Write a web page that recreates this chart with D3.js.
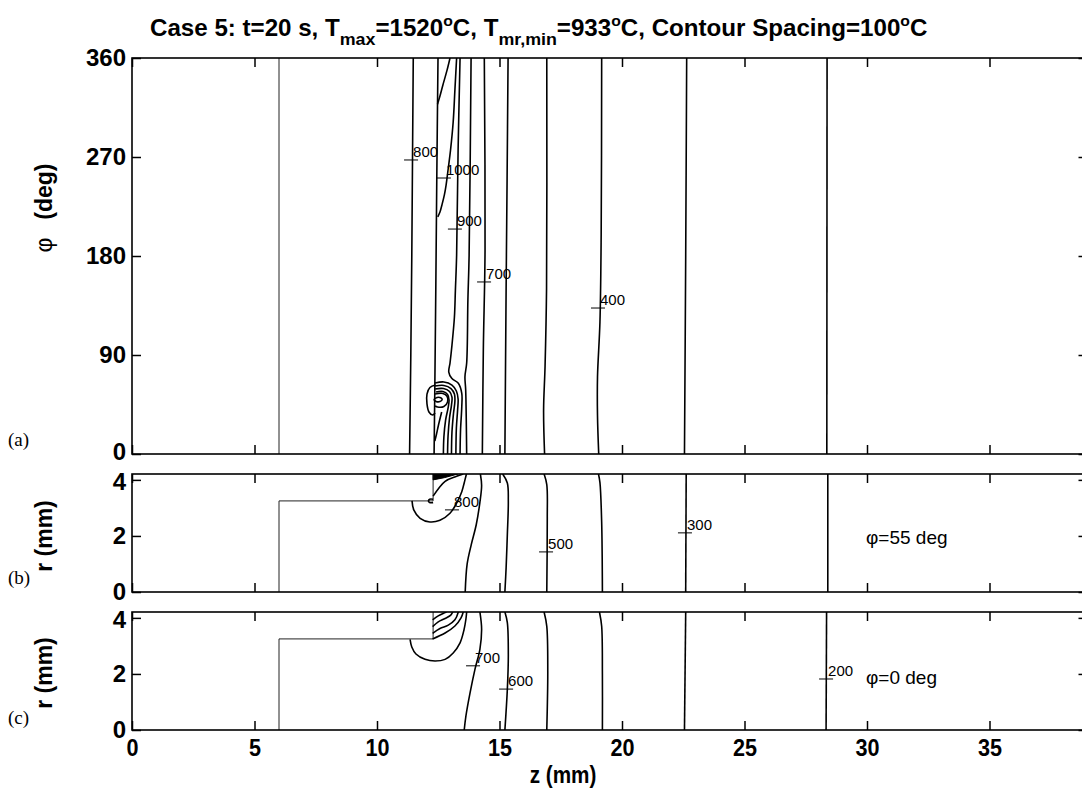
<!DOCTYPE html>
<html lang="en">
<head>
<meta charset="UTF-8">
<title>Case 5 temperature contours</title>
<script src="https://d3js.org/d3.v7.min.js"></script>
<style>
  body { margin: 0; background: #fff; }
  svg { display: block; }
  .tick text { font-family: "Liberation Sans", Arial, sans-serif; font-weight: bold; fill: #000; }
  .tick line { stroke: #000; stroke-width: 1.5; }
  .ylab .tick text { font-size: 24px; }
  .xlab .tick text { font-size: 24px; }
  .clab { font-family: "Liberation Sans", Arial, sans-serif; font-size: 15px; fill: #000; }
</style>
</head>
<body>
<svg id="chart" width="1082" height="792"></svg>
<script>
// ---------- data ----------
const zTicks = [0, 5, 10, 15, 20, 25, 30, 35];
const phiTicks = [0, 90, 180, 270, 360];
const rTicks = [0, 2, 4];
const zMax = 39, phiMax = 360, rMax = 4.21;

const titleParts = [
  ["Case 5: t=20 s, T", ""], ["max", "sub"], ["=1520", ""], ["o", "sup"],
  ["C, T", ""], ["mr,min", "sub"], ["=933", ""], ["o", "sup"],
  ["C, Contour Spacing=100", ""], ["o", "sup"], ["C", ""]
];

// (a) phi vs z, contour lines as [z (mm), phi (deg)]
const thinA = [[[6, 0], [6, 360]]];
const contoursA = [
  [[11.48, 360], [11.45, 270], [11.42, 180], [11.38, 90], [11.33, 0]],
  [[12.49, 360], [12.44, 250], [12.4, 150], [12.36, 60], [12.33, 0]],
  [[12.98, 360], [12.86, 349], [12.69, 335.5], [12.57, 325.5], [12.51, 321], [12.47, 318]],
  [[13.25, 360], [13.18, 331], [13.11, 302], [13.0, 276], [12.91, 260], [12.82, 244.5], [12.75, 235.5], [12.65, 226.4], [12.57, 220], [12.48, 215.5]],
  [[13.39, 360], [13.31, 276], [13.25, 181], [13.2, 149], [13.16, 124.5], [13.06, 99], [12.98, 82.7], [12.93, 74.5], [13.05, 68.8], [13.32, 64.3], [13.46, 55.2], [13.46, 43], [13.41, 21.8], [13.39, 0]],
  [[13.84, 360], [13.76, 181], [13.71, 140], [13.66, 82.7], [13.59, 70.3], [13.62, 58.2], [13.66, 0]],
  [[14.38, 360], [14.41, 185], [14.34, 94.5], [14.3, 0]],
  [[15.35, 360], [15.31, 250], [15.27, 150], [15.22, 0]],
  [[16.93, 360], [16.92, 150], [16.86, 80], [16.8, 40], [16.84, 0]],
  [[19.17, 360], [19.15, 200], [19.1, 120], [19.0, 70], [19.0, 35], [19.05, 0]],
  [[22.64, 360], [22.6, 180], [22.55, 0]],
  [[28.37, 360], [28.36, 0]],
  // hot spot near phi = 55 deg
  [[12.37, 64.5], [12.73, 65.5], [13.06, 62.7], [13.24, 57.3], [13.31, 50], [13.29, 40], [13.24, 23.6], [13.22, 0]],
  [[12.37, 61.8], [12.73, 62.3], [13.02, 59.5], [13.16, 54.5], [13.18, 48.2], [13.12, 36.4], [13.06, 20], [13.04, 0]],
  [[12.37, 59.1], [12.71, 59.5], [12.96, 56.8], [13.06, 51.8], [13.04, 44.5], [12.96, 32.7], [12.9, 16.4], [12.88, 0]],
  [[12.41, 56.4], [12.69, 56.8], [12.88, 54.1], [12.94, 49.1], [12.9, 41.8], [12.8, 30.9], [12.73, 15.5], [12.71, 0]],
  [[12.64, 38.2], [12.51, 26.4], [12.43, 18.2], [12.36, 11.8]],
  [[12.39, 62.7], [12.16, 60.5], [12.04, 54.5], [12.04, 45.5], [12.12, 38.2], [12.27, 35.5], [12.37, 37.3]],
  [[12.37, 54.5], [12.69, 55], [12.86, 52.3], [12.88, 47.3], [12.73, 43.2], [12.47, 42.7], [12.37, 43.6]]
];
const loopsA = [
  [[12.33, 49.5], [12.45, 51.4], [12.6, 51.2], [12.66, 49.5], [12.57, 47.7], [12.41, 47.8]]
];
const labelsA = [
  [11.39, 267.3, "800"], [12.73, 250.9, "1000"], [13.18, 204.5, "900"],
  [14.37, 156.4, "700"], [19.02, 132.7, "400"]
];

// (b) r vs z at phi = 55 deg, [z (mm), r (mm)]
const geomRZ = [[6, 0], [6, 3.25], [12.29, 3.25], [12.29, 4.21]];
const wedgeB = [[12.29, 4.21], [13.3, 4.21], [12.75, 4.08], [12.29, 4.0]];
const contoursB = [
  [[12.29, 3.42], [12.78, 3.95], [13.25, 4.13], [13.52, 4.21]],
  [[11.43, 3.25], [11.5, 2.93], [11.76, 2.63], [12.16, 2.5], [12.57, 2.56], [12.98, 2.81], [13.25, 3.17], [13.46, 3.58], [13.59, 4.0], [13.65, 4.21]],
  [[14.22, 4.21], [14.27, 3.8], [14.2, 3.2], [14.05, 2.4], [13.85, 1.7], [13.68, 1.0], [13.6, 0]],
  [[15.13, 4.21], [15.32, 3.89], [15.36, 3.24], [15.32, 2.05], [15.27, 0.86], [15.22, 0]],
  [[16.82, 4.21], [16.93, 3.83], [16.95, 2.64], [16.93, 0]],
  [[19.04, 4.21], [19.1, 3.9], [19.17, 2.5], [19.2, 0]],
  [[22.62, 4.21], [22.6, 0]],
  [[28.4, 4.21], [28.4, 0]],
  [[12.29, 3.31], [12.15, 3.31], [12.1, 3.25], [12.15, 3.19], [12.29, 3.19]]
];
const labelsB = [[13.06, 2.93, "800"], [16.9, 1.43, "500"], [22.57, 2.11, "300"]];

// (c) r vs z at phi = 0 deg
const contoursC = [
  [[12.27, 3.93], [12.5, 4.07], [12.73, 4.17], [12.84, 4.21]],
  [[12.27, 3.69], [12.5, 3.86], [12.78, 3.98], [13.01, 4.1], [13.09, 4.21]],
  [[12.27, 3.45], [12.57, 3.62], [12.91, 3.74], [13.18, 3.93], [13.32, 4.21]],
  [[12.27, 3.25], [12.78, 3.46], [13.18, 3.71], [13.43, 4.0], [13.52, 4.21]],
  [[11.35, 3.23], [11.42, 2.96], [11.59, 2.71], [11.96, 2.52], [12.37, 2.46], [12.78, 2.52], [13.11, 2.75], [13.39, 3.11], [13.55, 3.57], [13.63, 3.96], [13.66, 4.21]],
  [[14.2, 4.21], [14.27, 3.6], [14.2, 2.88], [14.0, 2.17], [13.8, 1.33], [13.63, 0.5], [13.56, 0]],
  [[15.22, 4.21], [15.32, 3.83], [15.36, 2.64], [15.32, 1.45], [15.22, 0]],
  [[16.82, 4.21], [16.93, 3.7], [16.97, 2.1], [16.93, 0]],
  [[19.08, 4.21], [19.17, 3.7], [19.2, 2.0], [19.2, 0]],
  [[22.6, 4.21], [22.55, 0]],
  [[28.35, 4.21], [28.33, 0]]
];
const labelsC = [[13.92, 2.29, "700"], [15.27, 1.46, "600"], [28.33, 1.82, "200"]];

// ---------- layout ----------
const svg = d3.select("#chart");
const x = d3.scaleLinear().domain([0, zMax]).range([132, 1087.5]);

const panels = [
  { key: "a", y: d3.scaleLinear().domain([0, phiMax]).range([454, 58]), ticks: phiTicks,
    thin: thinA, lines: contoursA, loops: loopsA, labels: labelsA, tag: "(a)", tagY: 446 },
  { key: "b", y: d3.scaleLinear().domain([0, rMax]).range([592, 474]), ticks: rTicks,
    thin: [geomRZ], lines: contoursB, loops: [], wedge: wedgeB, labels: labelsB, tag: "(b)", tagY: 584,
    note: "=55 deg", noteY: 544 },
  { key: "c", y: d3.scaleLinear().domain([0, rMax]).range([730, 612]), ticks: rTicks,
    thin: [geomRZ], lines: contoursC, loops: [], labels: labelsC, tag: "(c)", tagY: 724,
    note: "=0 deg", noteY: 684, zLabels: true }
];

panels.forEach(p => {
  const g = svg.append("g");
  const [y0, y1] = p.y.range();
  const x0 = x.range()[0], x1 = x.range()[1];

  g.append("clipPath").attr("id", "clip-" + p.key)
    .append("rect").attr("x", x0).attr("y", y1).attr("width", x1 - x0).attr("height", y0 - y1);
  const body = g.append("g").attr("clip-path", `url(#clip-${p.key})`);

  const line = d3.line().x(d => x(d[0])).y(d => p.y(d[1])).curve(d3.curveCatmullRom.alpha(0.5));
  const loop = d3.line().x(d => x(d[0])).y(d => p.y(d[1])).curve(d3.curveCatmullRomClosed.alpha(0.5));

  body.selectAll("path.thin").data(p.thin).join("path")
    .attr("class", "thin").attr("d", d3.line().x(d => x(d[0])).y(d => p.y(d[1])))
    .attr("fill", "none").attr("stroke", "#222").attr("stroke-width", 1);

  if (p.wedge) {
    body.append("path").attr("d", d3.line().x(d => x(d[0])).y(d => p.y(d[1]))(p.wedge) + "Z")
      .attr("fill", "#000").attr("stroke", "#000").attr("stroke-width", 1);
  }

  body.selectAll("path.ct").data(p.lines).join("path")
    .attr("class", "ct").attr("d", line)
    .attr("fill", "none").attr("stroke", "#000").attr("stroke-width", 1.6);

  body.selectAll("path.lp").data(p.loops).join("path")
    .attr("class", "lp").attr("d", loop)
    .attr("fill", "none").attr("stroke", "#000").attr("stroke-width", 1.6);

  // contour labels with small cross marks
  const lab = g.selectAll("g.lab").data(p.labels).join("g").attr("class", "lab");
  lab.append("line")
    .attr("x1", d => x(d[0]) - 7).attr("x2", d => x(d[0]) + 7)
    .attr("y1", d => p.y(d[1])).attr("y2", d => p.y(d[1]))
    .attr("stroke", "#000").attr("stroke-width", 1);
  lab.append("text").attr("class", "clab")
    .attr("x", d => x(d[0]) + 2).attr("y", d => p.y(d[1]) - 3)
    .text(d => d[2]);

  // frame
  g.append("rect").attr("x", x0).attr("y", y1).attr("width", x1 - x0).attr("height", y0 - y1)
    .attr("fill", "none").attr("stroke", "#000").attr("stroke-width", 1.6);

  // axes with inward ticks
  const clean = s => s.call(a => a.select(".domain").remove()).attr("font-size", null).attr("font-family", null);
  g.append("g").attr("class", "xlab").attr("transform", `translate(0,${y0})`)
    .call(d3.axisBottom(x).tickValues(zTicks).tickSize(-9).tickSizeOuter(0).tickPadding(9)
      .tickFormat(p.zLabels ? d3.format("d") : () => ""))
    .call(clean)
    .selectAll(".tick text").attr("transform", "scale(0.9,1)");
  g.append("g").attr("transform", `translate(0,${y1})`)
    .call(d3.axisTop(x).tickValues(zTicks).tickSize(-9).tickSizeOuter(0).tickFormat(() => ""))
    .call(clean);
  const top = p.ticks[p.ticks.length - 1];
  g.append("g").attr("class", "ylab").attr("transform", `translate(${x0},0)`)
    .call(d3.axisLeft(p.y).tickValues(p.ticks).tickSize(-9).tickSizeOuter(0).tickPadding(6).tickFormat(d3.format("d")))
    .call(clean)
    .selectAll(".tick text")
    .attr("dy", d => (p.key === "a" && d === 0) ? "0.22em" : (p.key !== "a" && d === top) ? "0.40em" : "0.32em");
  g.append("g").attr("transform", `translate(${x1},0)`)
    .call(d3.axisRight(p.y).tickValues(p.ticks).tickSize(-9).tickSizeOuter(0).tickFormat(() => ""))
    .call(clean);

  // panel tag
  svg.append("text").attr("x", 8).attr("y", p.tagY)
    .attr("font-family", "'Liberation Serif', 'Times New Roman', serif").attr("font-size", 19)
    .text(p.tag);

  if (p.note) {
    const t = svg.append("text").attr("x", 866).attr("y", p.noteY)
      .attr("font-family", "'Liberation Sans', Arial, sans-serif").attr("font-size", 19);
    t.append("tspan").text("\u03c6");
    t.append("tspan").text(p.note);
  }
});

// y axis titles
const yTitle = (cy, parts) => {
  const t = svg.append("text").attr("transform", `translate(52,${cy}) rotate(-90)`)
    .attr("text-anchor", "middle")
    .attr("font-family", "'Liberation Sans', Arial, sans-serif").attr("font-size", 23);
  parts.forEach(([s, w]) => t.append("tspan").attr("font-weight", w).text(s));
};
yTitle(208, [["\u03c6", "normal"], ["\u2002 (deg)", "bold"]]);
yTitle(536, [["r (mm)", "bold"]]);
yTitle(673, [["r (mm)", "bold"]]);

// x axis title
svg.append("text").attr("transform", "translate(563,783) scale(0.9,1)")
  .attr("text-anchor", "middle")
  .attr("font-family", "'Liberation Sans', Arial, sans-serif").attr("font-size", 23).attr("font-weight", "bold")
  .text("z (mm)");

// title with sub/superscripts, fitted to the original width
const title = svg.append("text").attr("y", 36)
  .attr("font-family", "'Liberation Sans', Arial, sans-serif").attr("font-size", 23).attr("font-weight", "bold");
let shift = 0;
titleParts.forEach(([s, kind]) => {
  const want = kind === "sub" ? 9 : kind === "sup" ? -10 : 0;
  title.append("tspan").attr("dy", want - shift)
    .attr("font-size", kind === "sup" ? 15 : kind ? 17 : 23).text(s);
  shift = want;
});
const tw = title.node().getComputedTextLength();
title.attr("transform", `translate(150,0) scale(${778 / tw},1)`);
</script>
</body>
</html>
